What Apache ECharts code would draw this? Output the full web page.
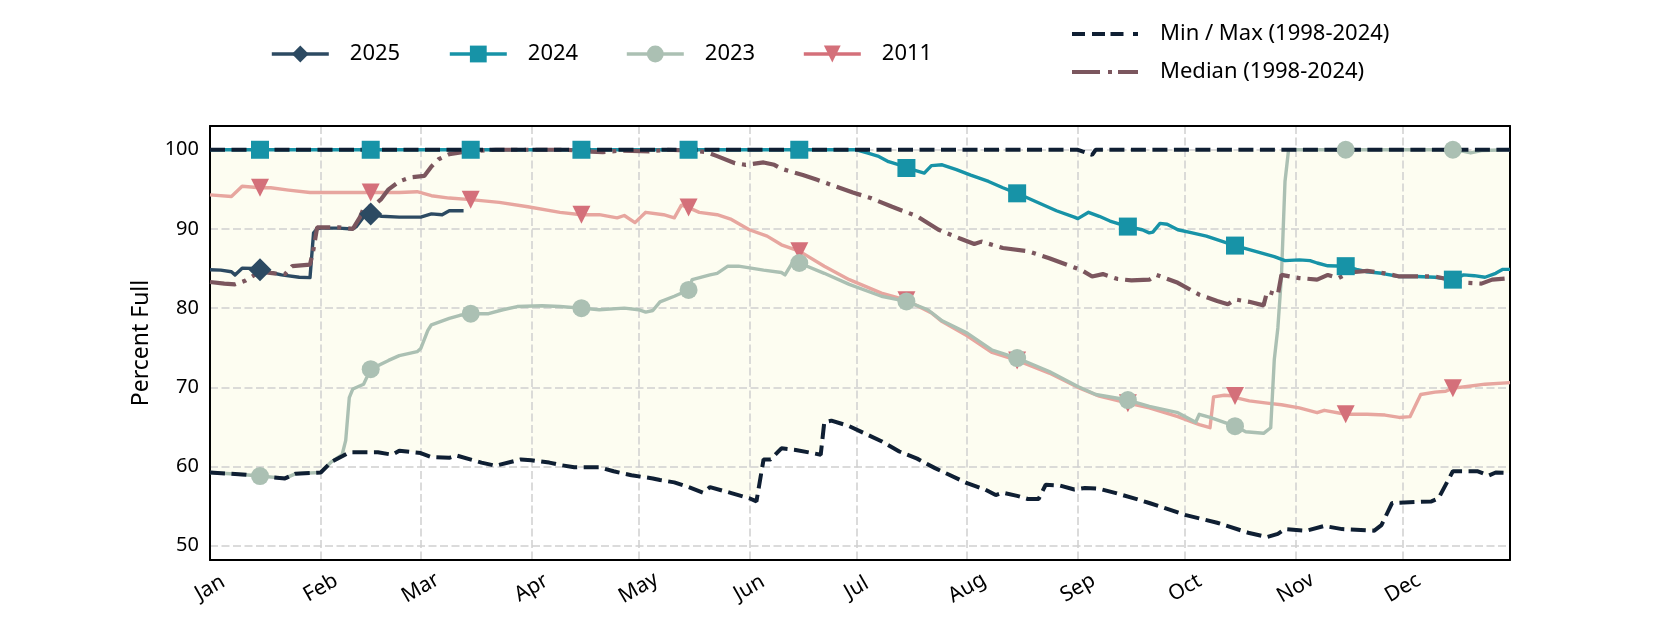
<!DOCTYPE html>
<html><head><meta charset="utf-8">
<script src="https://cdn.jsdelivr.net/npm/echarts@6/dist/echarts.min.js"></script>
<style>html,body{margin:0;padding:0;background:#fff}#c{width:1680px;height:630px}</style>
</head><body><div id="c"></div>
<script>
const monthNames = ['Jan','Feb','Mar','Apr','May','Jun','Jul','Aug','Sep','Oct','Nov','Dec'];
const monthLengths = [31,28,31,30,31,30,31,31,30,31,30,31];
const markerDays = [14,45,73,104,134,165,195,226,257,287,318,348];

// [day-of-year index, percent full]
const s2025 = [[0,84.85],[3,84.8],[6,84.6],[7,84.2],[9,85.05],[12,85.0],[14,84.85],[17,84.5],[20,84.2],[25,83.9],[28,83.85],[29,89.5],[30,90.0],[31,90.1],[36,90.1],[40,90.0],[41,90.3],[43,91.5],[45,91.9],[48,91.6],[53,91.5],[59,91.5],[62,91.9],[65,91.8],[67,92.3],[71,92.3]];
const s2024 = [[0,100],[14,100],[45,100],[73,100],[104,100],[134,100],[165,100],[181,100],[184,99.6],[187,99.2],[190,98.5],[193,98.1],[195,97.7],[200,97.05],[202,98.0],[205,98.1],[209,97.5],[213,96.8],[218,96.0],[222,95.2],[226,94.5],[231,93.5],[237,92.3],[242,91.5],[243,91.3],[246,92.1],[249,91.6],[252,91.0],[257,90.3],[261,89.9],[263,89.5],[264,89.6],[266,90.7],[268,90.6],[271,89.9],[275,89.5],[279,89.1],[283,88.5],[287,87.9],[291,87.4],[294,87.0],[298,86.5],[301,86.0],[305,86.1],[308,86.0],[310,85.7],[313,85.35],[318,85.3],[321,84.9],[324,84.6],[328,84.4],[333,84.0],[338,84.0],[343,83.9],[348,83.6],[351,84.2],[354,84.1],[357,83.9],[360,84.4],[362,84.9],[364,84.9]];
const s2023 = [[0,59.25],[9,59.0],[14,58.8],[21,58.5],[24,59.1],[31,59.25],[34,60.6],[37,61.5],[38,63.3],[39,68.7],[40,69.8],[43,70.4],[45,72.3],[50,73.4],[53,74.0],[58,74.5],[59,74.9],[61,77.2],[62,77.9],[67,78.7],[70,79.1],[73,79.3],[78,79.3],[82,79.8],[86,80.2],[93,80.3],[98,80.2],[104,80.0],[109,79.8],[116,80.0],[120,79.8],[122,79.5],[124,79.7],[126,80.8],[130,81.5],[134,82.3],[135,83.6],[140,84.2],[142,84.4],[145,85.3],[148,85.3],[155,84.8],[160,84.5],[161,84.2],[163,85.7],[165,85.7],[172,84.4],[179,83.0],[188,81.5],[195,80.85],[201,79.8],[205,78.4],[212,76.85],[219,74.7],[226,73.7],[235,72.0],[243,70.1],[248,69.1],[257,68.4],[263,67.6],[271,66.8],[276,65.6],[277,66.6],[280,66.2],[287,65.1],[290,64.4],[295,64.2],[297,64.9],[298,73.5],[299,77.5],[300,84],[301,96],[302,100],[318,100],[348,100],[351,99.8],[353,99.6],[356,99.9],[364,100]];
const s2011 = [[0,94.3],[6,94.1],[9,95.4],[14,95.2],[17,95.2],[22,94.9],[28,94.6],[35,94.6],[45,94.6],[53,94.6],[58,94.7],[62,94.2],[67,93.9],[73,93.7],[81,93.35],[89,92.8],[98,92.1],[104,91.8],[109,91.8],[114,91.4],[116,91.7],[119,90.8],[122,92.1],[127,91.8],[130,91.4],[132,93.0],[134,92.7],[137,92.1],[142,91.8],[146,91.2],[151,89.9],[156,89.1],[160,88.0],[165,87.2],[172,85.3],[179,83.6],[188,81.9],[195,81.0],[202,79.4],[205,78.3],[212,76.5],[219,74.4],[226,73.4],[235,71.8],[243,70.0],[249,68.9],[257,68.0],[263,67.4],[271,66.3],[277,65.3],[280,64.9],[281,68.8],[284,69.0],[287,68.9],[288,68.6],[291,68.3],[296,68.0],[300,67.8],[305,67.4],[310,66.8],[312,67.1],[318,66.6],[324,66.6],[329,66.5],[333,66.2],[336,66.3],[339,69.1],[343,69.4],[346,69.5],[348,69.9],[352,70.1],[357,70.4],[364,70.6]];
const sMedian = [[0,83.3],[4,83.1],[7,83.0],[10,83.5],[14,84.6],[18,84.4],[21,84.3],[23,85.3],[28,85.5],[29,87.5],[30,90.2],[36,90.2],[40,90.0],[42,91.5],[43,92.6],[46,93.0],[48,93.8],[50,95.0],[53,96.0],[56,96.5],[60,96.7],[62,97.9],[64,98.8],[67,99.45],[72,99.8],[80,100],[100,100],[105,99.8],[110,99.7],[115,99.9],[123,99.8],[128,100],[135,99.9],[139,99.7],[142,99.2],[147,98.3],[150,98.1],[155,98.4],[158,98.1],[160,97.6],[166,96.8],[170,96.2],[175,95.4],[180,94.6],[185,93.9],[191,92.8],[198,91.6],[204,89.9],[210,88.8],[214,88.1],[216,88.4],[222,87.6],[229,87.2],[235,86.3],[244,84.8],[247,84.0],[250,84.3],[254,83.7],[258,83.5],[263,83.6],[265,84.2],[271,83.2],[277,81.7],[282,80.9],[285,80.5],[287,81.1],[291,80.8],[295,80.35],[296,82.1],[299,81.7],[300,84.2],[305,83.8],[310,83.6],[313,84.2],[316,83.8],[319,84.5],[324,84.7],[329,84.4],[333,84.0],[343,84.0],[347,83.6],[352,83.2],[356,83.1],[359,83.6],[364,83.8]];
const sMax = [[0,100],[243,100],[247,99.35],[248,100],[364,100]];
const sMin = [[0,59.25],[9,59.0],[14,58.8],[21,58.5],[24,59.1],[31,59.25],[34,60.6],[37,61.3],[39,61.8],[47,61.8],[51,61.5],[53,62.0],[59,61.7],[62,61.2],[67,61.1],[69,61.4],[76,60.5],[80,60.1],[87,60.9],[90,60.8],[95,60.5],[98,60.2],[102,59.9],[109,59.9],[113,59.4],[118,58.9],[124,58.5],[126,58.3],[130,58.0],[134,57.4],[138,56.7],[140,57.4],[146,56.65],[151,56.0],[153,55.6],[155,60.9],[157,60.9],[160,62.3],[164,62.1],[171,61.5],[172,65.6],[174,65.8],[179,65.1],[188,63.2],[193,61.9],[198,61.0],[203,59.8],[212,57.9],[217,57.1],[220,56.4],[222,56.7],[226,56.3],[229,55.9],[232,55.9],[234,57.7],[238,57.6],[242,57.1],[245,57.3],[249,57.2],[254,56.6],[259,55.95],[263,55.4],[273,53.9],[282,52.9],[291,51.6],[296,51.1],[299,51.5],[301,52.1],[307,51.9],[312,52.5],[317,52.1],[326,51.9],[328,52.6],[331,55.4],[342,55.6],[344,56.0],[348,59.4],[355,59.4],[358,58.85],[360,59.25],[364,59.2]];

// categories: every day of a (non-leap) year
const categories = [];
const monthStarts = new Set();
monthLengths.forEach((len, m) => {
  monthStarts.add(categories.length);
  for (let d = 1; d <= len; d++) categories.push(monthNames[m] + ' ' + d);
});

const FONT = "'Noto Sans', sans-serif";
const C2025 = '#2c4a62', C2024 = '#1793a7', C2023 = '#abc0b3', C2011L = '#e7a69f', C2011M = '#d4707a';
const CMED = '#7b565e', CMM = '#0f1f33', FILL = '#fdfdf1', GRID = '#cfcfcf';
const TRI = 'path://M0,0 L2,0 L1,2 Z';
const pick = (arr) => arr.filter(p => markerDays.includes(p[0]));

function yearLine(name, data, color, lineColor, symbol, z) {
  return {name, type: 'line', data, symbol, symbolSize: 16, showSymbol: false,
    itemStyle: {color}, lineStyle: {color: lineColor, width: 3.4, join: 'round'}, z, silent: true};
}
function markers(name, data, color, symbol, size) {
  return {name, type: 'scatter', data: pick(data), symbol, symbolSize: size,
    itemStyle: {color, opacity: 1}, z: 8, silent: true};
}
function yearLegend(item, left) {
  return {left, top: 42, padding: 0, orient: 'horizontal', data: [item], itemWidth: 57, itemHeight: 21,
    selectedMode: false, itemStyle: {borderWidth: 0}, lineStyle: {width: 3.6},
    textStyle: {fontFamily: FONT, fontSize: 22, color: '#000', lineHeight: 24, padding: [0, 0, 0, 16]}};
}

const chart = echarts.init(document.getElementById('c'), null, {renderer: 'canvas'});
chart.setOption({
  animation: false,
  backgroundColor: '#fff',
  textStyle: {fontFamily: FONT},
  grid: {left: 210, right: 170, top: 126, bottom: 70, containLabel: false},
  legend: [
    yearLegend('2025', 270),
    yearLegend('2024', 448),
    yearLegend('2023', 625),
    yearLegend({name: '2011', lineStyle: {color: C2011M}}, 802),
    {left: 1072, top: 22, padding: 0, orient: 'vertical', itemGap: 14, itemWidth: 66, itemHeight: 4,
      selectedMode: false, itemStyle: {borderWidth: 0},
      data: [
        {name: 'Min / Max (1998-2024)', icon: 'path://M0 0h13v4H0z M20 0h13v4H20z M38.5 0h13v4h-13z M61 0h5v4h-5z'},
        {name: 'Median (1998-2024)', icon: 'path://M0 0h28v4H0z M36 0h4v4h-4z M46 0h20v4h-20z'}
      ],
      textStyle: {fontFamily: FONT, fontSize: 22, color: '#000', lineHeight: 24, padding: [0, 0, 0, 17]}}
  ],
  xAxis: [
    {type: 'category', data: categories, boundaryGap: false, z: 4,
      axisLine: {show: true, lineStyle: {color: '#000', width: 2}},
      axisTick: {show: false},
      axisLabel: {interval: (i) => monthStarts.has(i), rotate: 30, align: 'center', verticalAlign: 'middle',
        margin: 28, fontSize: 21, color: '#000', fontFamily: FONT,
        formatter: (v) => v.split(' ')[0]},
      splitLine: {show: true, interval: (i) => i > 0 && monthStarts.has(i),
        lineStyle: {color: GRID, width: 1.5, type: [8, 3.5]}}},
    {type: 'category', data: categories, boundaryGap: false, position: 'top', z: 4,
      axisLine: {show: true, lineStyle: {color: '#000', width: 2}},
      axisTick: {show: false}, axisLabel: {show: false}, splitLine: {show: false}}
  ],
  yAxis: [
    {type: 'value', min: 48.2, max: 103, splitNumber: 5, z: 3,
      name: 'Percent Full', nameLocation: 'middle', nameRotate: 90, nameGap: 57,
      nameTextStyle: {fontSize: 23, color: '#000', fontFamily: FONT},
      axisLine: {show: true, lineStyle: {color: '#000', width: 2}},
      axisTick: {show: false},
      axisLabel: {showMinLabel: false, showMaxLabel: false, margin: 11, fontSize: 20, color: '#000', fontFamily: FONT},
      splitLine: {show: true, lineStyle: {color: GRID, width: 1.5, type: [8, 3.5]}}},
    {type: 'value', min: 48.2, max: 103, position: 'right', z: 5,
      axisLine: {show: true, lineStyle: {color: '#000', width: 2}},
      axisTick: {show: false}, axisLabel: {show: false}, splitLine: {show: false}}
  ],
  series: [
    {name: 'maxFill', type: 'line', data: sMax, symbol: 'none', lineStyle: {width: 0},
      areaStyle: {color: FILL, opacity: 1, origin: 'start'}, z: 1, silent: true},
    {name: 'minFill', type: 'line', data: sMin, symbol: 'none', lineStyle: {width: 0},
      areaStyle: {color: '#ffffff', opacity: 1, origin: 'start'}, z: 2, silent: true},
    yearLine('2011', s2011, C2011M, C2011L, TRI, 6),
    yearLine('2023', s2023, C2023, C2023, 'circle', 6),
    yearLine('2024', s2024, C2024, C2024, 'rect', 6),
    yearLine('2025', s2025, C2025, C2025, 'diamond', 6),
    {name: 'Median (1998-2024)', type: 'line', data: sMedian, symbol: 'none', showSymbol: false,
      itemStyle: {color: CMED}, lineStyle: {color: CMED, width: 4.2, type: [26, 7, 4, 7]}, z: 7, silent: true},
    {name: 'Min / Max (1998-2024)', type: 'line', data: sMin, symbol: 'none', showSymbol: false,
      itemStyle: {color: CMM}, lineStyle: {color: CMM, width: 4, type: [15, 6.5]}, z: 7, silent: true},
    {name: 'Min / Max (1998-2024)', type: 'line', data: sMax, symbol: 'none', showSymbol: false,
      itemStyle: {color: CMM}, lineStyle: {color: CMM, width: 4, type: [15, 6.5]}, z: 7, silent: true},
    markers('m2011', s2011, C2011M, TRI, [18, 18]),
    markers('m2023', s2023, C2023, 'circle', 18),
    markers('m2024', s2024, C2024, 'rect', 18),
    markers('m2025', s2025, C2025, 'diamond', 23)
  ]
});
</script>
</body></html>
